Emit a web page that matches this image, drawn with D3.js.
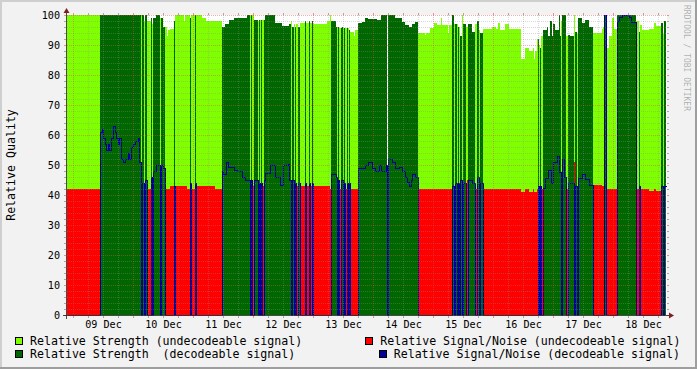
<!DOCTYPE html>
<html><head><meta charset="utf-8">
<script src="https://cdn.jsdelivr.net/npm/d3@7"></script>
<style>body{margin:0;background:#f2f2f2}svg{display:block}text{font-family:"DejaVu Sans Mono",monospace;white-space:pre}</style>
</head><body><svg id="c" width="697" height="369"></svg>
<script>
// ---- data: runs of consolidated 24-minute samples: [samples, decodeable(1/0), strength, signal/noise]
const START = new Date(2023, 11, 8, 21, 24);
const END = new Date(2023, 11, 18, 21, 24);
const STEP_MIN = 24;
const blockDec08 = [[33,0,100,42],
 [2,1,100,61],[1,1,100,62],[2,1,100,59],[1,1,100,57],[2,1,100,55],[1,1,100,57],[2,1,100,55],[2,1,100,59],[2,1,100,63],[1,1,100,61],[2,1,100,59],[1,1,100,57],[2,1,100,59],[2,1,100,52],[2,1,100,51],[3,1,100,52],[1,1,100,54],[2,1,100,52],[2,1,100,56],[2,1,100,57],[3,1,100,58],[1,1,100,59],[2,1,100,51]];
const blockDec09 = [[1,0,100,42],[2,1,100,44],[1,0,98,42],[2,1,100,45],[4,0,98,42],[1,1,99,46],[1,0,97,42],[3,1,99,48],[4,1,100,50],[1,0,99,42],[2,1,99,50],[2,1,96,49],
 [2,0,96,42],[1,0,93,42],[2,0,95,42],[4,0,95.5,43],[1,1,98,43],[9,0,100,43],[1,0,98,43],[2,0,100,43],[3,0,100,42],[1,1,99,44],[4,0,100,42],[1,1,100,44],[1,0,100,42],[5,0,100,43],[4,0,99,43],[9,0,98,43],[7,0,98,42]];
const blockDec11 = [[1,1,96,48],[2,1,96,47],[1,1,97,47],[2,1,97,51],[1,1,97,49.5],[5,1,98.5,49.5],[3,1,99,48.5],[5,1,99,48],[3,1,99,46],[2,1,99,45],[3,1,100,45],[1,0,100,42],[1,1,100,45],[2,0,100,43],[4,1,98.5,45],[1,0,98,42],[1,1,98.5,44],[1,0,98.5,42],[1,1,98.5,44],[2,0,98.5,43],[1,1,98.5,45],[5,1,100,47.5],[5,1,100,50],[5,1,97.5,46],[2,1,97.5,43.5],[1,1,96.5,43.5],[5,1,96.5,50],[1,1,96.5,50.5],[2,1,97,45],[1,0,98,42],[2,1,96,45],[1,0,97,42],[1,1,96,44],[2,0,97,43],[2,1,96,44]];
const blockDec12 = [[5,0,97.5,43],[1,1,98,44],[3,0,97.5,43],[1,1,98,44],[2,0,97.5,43],[1,1,98,44],[14,0,97,43],[3,0,98,43],
 [1,0,100,42],[5,1,98,47],[1,1,96,46],[1,0,96,42],[1,1,96,45],[2,0,95.6,42],[1,1,95.6,45],[1,1,96,45],[1,0,95.6,42],[1,1,95.6,44],[2,0,95.6,42],[1,1,95.6,44],[1,0,95.6,42],[1,1,95,44],[4,0,94.5,42],[1,0,93,42],[3,0,95,42]];
const blockDec13 = [[4,1,97.5,49],[3,1,97.8,49],[3,1,99,50],[4,1,98.7,51],[3,1,98.7,49],[2,1,98.7,48],[2,1,98.3,48],[2,1,98.3,50],[5,1,100,48],[1,1,100,50],[1,1,0,0],[4,1,100,52],[3,1,100,51],[4,1,99,49],[3,1,99,49.5],[3,1,97.8,48],[2,1,96.7,46],[2,1,96.7,44.5],[2,1,96,43],[1,1,96,45],[3,1,97,47],[3,1,97.8,46]];
const blockDec14 = [[7,0,94,42],[1,0,93.5,42],[4,0,94,42],[4,0,95.6,42],[3,0,97.5,42],[4,0,96.7,42],[1,0,99,42],[6,0,96.7,42],[1,0,94,42],[3,0,96.7,42],
 [2,1,100,43],[1,0,97,42],[2,1,97,44],[1,0,97,42],[1,1,96,44],[1,0,96,42],[2,1,93,45],[1,0,100,42],[3,1,97,44],[1,0,96,42],[1,0,96,45],[4,1,97,45],[3,1,94.5,44],[2,0,97,42],[2,1,98,46],[1,0,95,42],[3,1,94,44]];
const blockDec15 = [[9,0,95.2,42],[4,0,96,42],[2,0,95.2,42],[2,0,97.2,42],[5,0,95,42],[4,0,97,42],[12,0,95.2,42],[4,0,85.5,41],[4,0,89,42],[4,0,88,41],[1,0,89,42],[1,0,85.5,41],[2,0,88,41],
 [1,0,92,42],[1,1,92,43],[1,0,90,42],[1,1,89,43],[2,0,93,42],[2,1,95,42.5]];
const blockDec16 = [[2,1,95,45.6],[1,1,96,45.6],[2,1,93,48.3],[1,1,98,48.3],[1,1,98,44],[1,1,93,44],[2,1,97,51],[2,1,95,51],[2,1,95,53],[1,1,100,47.8],[1,1,93,47.8],[1,0,98,42],[2,1,100,52],[2,1,100,46],[2,0,93,42],[2,1,93.5,44],[4,1,93,44],[1,0,100,51],[2,1,94.4,43],[1,0,93.6,42],[4,1,98.9,45.6],[3,1,97.2,47],[4,1,98.5,45.5],[4,1,96,43.5]];
const blockDec17 = [[9,0,94,43.3],[1,0,95.5,43],[1,0,96,43],[2,1,100,100],[3,0,89,42],[3,0,93,42],[2,0,98.9,42],[3,0,95.5,42],
 [2,1,100,98],[3,1,100,99.5],[7,1,100,100],[2,1,100,99.4],[5,1,100,97.8],
 [3,0,98,42],[1,1,94.4,43],[2,0,96.7,42],[7,0,95,42],[5,0,95.5,41.5],[2,0,97.2,42],[5,0,96.4,41.5],[2,1,97.2,43],[1,0,93.6,42],[2,1,98,43]];
const yTicks = [0,10,20,30,40,50,60,70,80,90,100];
const legendItems = ["Relative Strength (undecodeable signal)","Relative Strength  (decodeable signal)","Relative Signal/Noise (undecodeable signal)","Relative Signal/Noise (decodeable signal)"];
const colors = {su:"#7fff00", sd:"#006600", nu:"#ff0000", nd:"#000099"};

// ---- layout
const L=67, T=15, PW=600, PH=300, W=697, H=369;
const svg = d3.select("#c");
svg.append("rect").attr("width",W).attr("height",H).attr("fill","#f2f2f2");
svg.append("path").attr("d",`M0,0H${W}V2H2V${H}H0Z`).attr("fill","#cfcfcf");
svg.append("path").attr("d",`M${W},${H}H0V${H-2}H${W-2}V0H${W}Z`).attr("fill","#9e9e9e");
svg.append("rect").attr("x",L).attr("y",T).attr("width",PW).attr("height",PH).attr("fill","#ffffff");

const x = d3.scaleTime().domain([START,END]).range([L,L+PW]);
const y = d3.scaleLinear().domain([0,100]).range([T+PH,T]);

const runs = [].concat(blockDec08,blockDec09,blockDec11,blockDec12,blockDec13,blockDec14,blockDec15,blockDec16,blockDec17);
let cum=0; const pts=[];
runs.forEach(r=>{pts.push({t:new Date(+START+cum*STEP_MIN*60000),dec:r[1],s:r[2],q:r[3]}); cum+=r[0];});
const last = pts[pts.length-1];
pts.push({t:new Date(+START+cum*STEP_MIN*60000),dec:last.dec,s:last.s,q:last.q});

const su=d=>d.dec?0:d.s, sd=d=>d.dec?d.s:0, nu=d=>d.dec?0:d.q, nd=d=>d.dec?d.q:0;
const area = acc => d3.area().curve(d3.curveStepAfter).x(d=>x(d.t)).y0(y(0)).y1(d=>y(acc(d)));
const g = svg.append("g");
g.append("path").attr("d",area(su)(pts)).attr("fill",colors.su).attr("shape-rendering","crispEdges");
g.append("path").attr("d",area(sd)(pts)).attr("fill",colors.sd).attr("shape-rendering","crispEdges");
g.append("path").attr("d",area(nu)(pts)).attr("fill",colors.nu).attr("shape-rendering","crispEdges");
svg.append("clipPath").attr("id","pc").append("rect").attr("x",L).attr("y",T-1).attr("width",PW).attr("height",PH+1);
g.append("path").attr("clip-path","url(#pc)").attr("transform","translate(0.5,0.5)")
 .attr("d",d3.line().curve(d3.curveStepAfter).x(d=>x(d.t)).y(d=>y(nd(d)))(pts))
 .attr("fill","none").attr("stroke",colors.nd).attr("stroke-width",1).attr("shape-rendering","crispEdges");

// ---- grid (in front)
const GRID="rgba(143,143,143,0.35)", MGRID="rgba(222,79,79,0.45)";
const GRIDT="rgba(143,143,143,0.75)", MGRIDT="rgba(222,79,79,0.6)";
const gg = svg.append("g").attr("shape-rendering","crispEdges");
for(let v=0; v<=100; v+=2){
  const yy=y(v)+0.5, major=(v%10===0);
  const c = major?MGRID:GRID, ct = major?MGRIDT:GRIDT;
  if(v>0) gg.append("line").attr("x1",L).attr("x2",L+PW).attr("y1",yy).attr("y2",yy).attr("stroke",c).attr("stroke-dasharray","1,1");
  gg.append("line").attr("x1",L-3).attr("x2",L-1).attr("y1",yy).attr("y2",yy).attr("stroke",ct);
  gg.append("line").attr("x1",L+PW).attr("x2",L+PW+2).attr("y1",yy).attr("y2",yy).attr("stroke",ct);
}
d3.timeHour.every(6).range(START,END).forEach(t=>{
  const major = t.getHours()===0;
  const xx=Math.floor(x(t))+0.5, c=major?MGRID:GRID, ct=major?MGRIDT:GRIDT;
  gg.append("line").attr("x1",xx).attr("x2",xx).attr("y1",T).attr("y2",T+PH).attr("stroke",c).attr("stroke-dasharray","1,1");
  gg.append("line").attr("x1",xx).attr("x2",xx).attr("y1",T-2).attr("y2",T).attr("stroke",ct);
  gg.append("line").attr("x1",xx).attr("x2",xx).attr("y1",T+PH+1).attr("y2",T+PH+3).attr("stroke",ct);
});

// ---- axes
const AX="#1f1f1f";
gg.append("line").attr("x1",L-4).attr("x2",L+PW+4).attr("y1",T+PH+0.5).attr("y2",T+PH+0.5).attr("stroke",AX).attr("stroke-opacity",0.8);
gg.append("line").attr("x1",L-0.5).attr("x2",L-0.5).attr("y1",T+PH+4).attr("y2",T-4).attr("stroke",AX).attr("stroke-opacity",0.8);
svg.append("path").attr("d",`M${L+PW+2},${T+PH-2.5}L${L+PW+2},${T+PH+3.5}L${L+PW+7},${T+PH+0.5}Z`).attr("fill","#7f1f1f");
svg.append("path").attr("d",`M${L-3.5},${T-2}L${L+2.5},${T-2}L${L-0.5},${T-7}Z`).attr("fill","#7f1f1f");

// ---- labels
yTicks.forEach(v=>{
  svg.append("text").attr("x",60).attr("y",y(v)+3.7).attr("text-anchor","end").attr("font-size","10.15px").attr("fill","#000").text(v);
});
const fmt=d3.timeFormat("%d %b");
d3.timeDay.range(START,END).forEach(d=>{
  const noon=d3.timeHour.offset(d,12);
  if(noon>END) return;
  svg.append("text").attr("x",x(noon)).attr("y",328).attr("text-anchor","middle").attr("font-size","10.15px").attr("fill","#000").text(fmt(noon));
});
svg.append("text").attr("transform","translate(15,165) rotate(-90)").attr("text-anchor","middle").attr("font-size","11.6px").attr("fill","#000").text("Relative Quality");
svg.append("text").attr("transform","translate(684,5) rotate(90)").attr("font-size","8px").attr("fill","#000").attr("fill-opacity",0.3).text("RRDTOOL / TOBI OETIKER");

// ---- legend
const leg=[{bx:15.5,by:337.5,tx:30,ty:344.5,c:colors.su,s:legendItems[0]},
 {bx:15.5,by:350.5,tx:30,ty:357.5,c:colors.sd,s:legendItems[1]},
 {bx:365.5,by:337.5,tx:380.3,ty:344.5,c:colors.nu,s:legendItems[2]},
 {bx:379.5,by:350.5,tx:393.7,ty:357.5,c:colors.nd,s:legendItems[3]}];
leg.forEach(o=>{
  svg.append("rect").attr("x",o.bx).attr("y",o.by).attr("width",7).attr("height",7).attr("fill",o.c).attr("stroke","#000").attr("stroke-width",1).attr("shape-rendering","crispEdges");
  svg.append("text").attr("x",o.tx).attr("y",o.ty).attr("font-size","11.6px").attr("fill","#000").text(o.s);
});
</script></body></html>
